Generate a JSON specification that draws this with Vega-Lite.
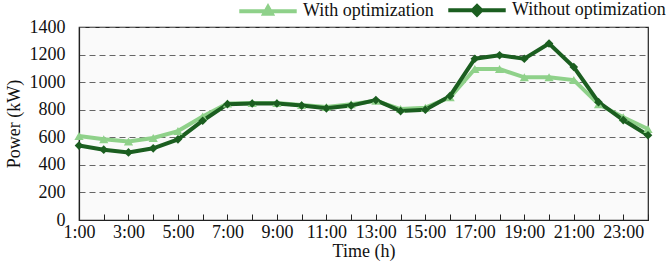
{
  "$schema": "https://vega.github.io/schema/vega-lite/v6.json",
  "autosize": "none",
  "width": 569,
  "height": 193,
  "padding": {"left": 79, "top": 27, "right": 23, "bottom": 52},
  "background": "white",
  "config": {
    "font": "Liberation Serif",
    "view": {"stroke": "#222222", "strokeWidth": 1.2, "fill": "#fafafa"}
  },
  "data": {
    "values": [
      {"hour": 1, "series": "With optimization", "power": 610},
      {"hour": 2, "series": "With optimization", "power": 585},
      {"hour": 3, "series": "With optimization", "power": 570},
      {"hour": 4, "series": "With optimization", "power": 595},
      {"hour": 5, "series": "With optimization", "power": 645},
      {"hour": 6, "series": "With optimization", "power": 750},
      {"hour": 7, "series": "With optimization", "power": 845},
      {"hour": 8, "series": "With optimization", "power": 848},
      {"hour": 9, "series": "With optimization", "power": 848},
      {"hour": 10, "series": "With optimization", "power": 835},
      {"hour": 11, "series": "With optimization", "power": 820},
      {"hour": 12, "series": "With optimization", "power": 840},
      {"hour": 13, "series": "With optimization", "power": 865},
      {"hour": 14, "series": "With optimization", "power": 805},
      {"hour": 15, "series": "With optimization", "power": 815},
      {"hour": 16, "series": "With optimization", "power": 890},
      {"hour": 17, "series": "With optimization", "power": 1095},
      {"hour": 18, "series": "With optimization", "power": 1095},
      {"hour": 19, "series": "With optimization", "power": 1035},
      {"hour": 20, "series": "With optimization", "power": 1035},
      {"hour": 21, "series": "With optimization", "power": 1015},
      {"hour": 22, "series": "With optimization", "power": 840},
      {"hour": 23, "series": "With optimization", "power": 745},
      {"hour": 24, "series": "With optimization", "power": 660},
      {"hour": 1, "series": "Without optimization", "power": 540},
      {"hour": 2, "series": "Without optimization", "power": 510},
      {"hour": 3, "series": "Without optimization", "power": 490},
      {"hour": 4, "series": "Without optimization", "power": 520},
      {"hour": 5, "series": "Without optimization", "power": 585},
      {"hour": 6, "series": "Without optimization", "power": 720},
      {"hour": 7, "series": "Without optimization", "power": 840},
      {"hour": 8, "series": "Without optimization", "power": 845},
      {"hour": 9, "series": "Without optimization", "power": 845},
      {"hour": 10, "series": "Without optimization", "power": 830},
      {"hour": 11, "series": "Without optimization", "power": 810},
      {"hour": 12, "series": "Without optimization", "power": 830},
      {"hour": 13, "series": "Without optimization", "power": 870},
      {"hour": 14, "series": "Without optimization", "power": 790},
      {"hour": 15, "series": "Without optimization", "power": 800},
      {"hour": 16, "series": "Without optimization", "power": 900},
      {"hour": 17, "series": "Without optimization", "power": 1170},
      {"hour": 18, "series": "Without optimization", "power": 1195},
      {"hour": 19, "series": "Without optimization", "power": 1170},
      {"hour": 20, "series": "Without optimization", "power": 1280},
      {"hour": 21, "series": "Without optimization", "power": 1110},
      {"hour": 22, "series": "Without optimization", "power": 855},
      {"hour": 23, "series": "Without optimization", "power": 725},
      {"hour": 24, "series": "Without optimization", "power": 615}
    ]
  },
  "encoding": {
    "x": {
      "field": "hour", "type": "quantitative",
      "scale": {"domain": [1, 24], "nice": false, "zero": false},
      "axis": {
        "values": [1,2,3,4,5,6,7,8,9,10,11,12,13,14,15,16,17,18,19,20,21,22,23,24],
        "labelExpr": "datum.value % 2 == 1 ? datum.value + ':00' : ''",
        "labelFontSize": 18, "labelColor": "#111111", "labelFont": "Liberation Serif",
        "labelFlush": false, "labelOverlap": false,
        "tickSize": -6, "tickColor": "#222222", "domainColor": "#222222", "domainWidth": 1.2,
        "labelPadding": 9, "grid": false,
        "title": "Time (h)", "titleFontSize": 18, "titleFontWeight": "normal", "titleColor": "#111111",
        "titleFont": "Liberation Serif", "titlePadding": 1
      }
    },
    "y": {
      "field": "power", "type": "quantitative",
      "scale": {"domain": [0, 1400], "nice": false},
      "axis": {
        "values": [0, 200, 400, 600, 800, 1000, 1200, 1400], "format": "d",
        "ticks": false, "labelPadding": 14, "domainColor": "#222222", "domainWidth": 1.2,
        "labelFontSize": 18, "labelColor": "#111111", "labelFont": "Liberation Serif",
        "grid": true, "gridColor": "#666666", "gridDash": [6, 4], "gridWidth": 1.2,
        "title": "Power (kW)", "titleFontSize": 18, "titleFontWeight": "normal", "titleColor": "#111111",
        "titleFont": "Liberation Serif", "titlePadding": 6
      }
    }
  },
  "layer": [
    {
      "mark": {"type": "line", "strokeWidth": 4},
      "encoding": {
        "color": {
          "field": "series", "type": "nominal",
          "scale": {"domain": ["With optimization", "Without optimization"], "range": ["#8fd18a", "#1b5e20"]},
          "legend": {
            "orient": "none", "direction": "horizontal", "legendX": 158, "legendY": -48,
            "title": null, "labelFontSize": 18, "labelFont": "Liberation Serif", "labelColor": "#111111",
            "symbolType": "stroke", "symbolSize": 3300, "symbolStrokeWidth": 4, "columnPadding": 6, "labelOffset": 4,
            "encode": {
              "symbols": {
                "update": {
                  "shape": {"signal": "datum.value == 'With optimization' ? 'M-1,0L1,0M-0.13,0.08L0,-0.15L0.13,0.08Z' : 'M-1,0L1,0M-0.15,0L0,-0.15L0.15,0L0,0.15Z'"},
                  "fill": {"signal": "datum.value == 'With optimization' ? '#8fd18a' : '#1b5e20'"},
                  "fillOpacity": {"value": 1}
                }
              }
            }
          }
        }
      }
    },
    {
      "transform": [{"filter": "datum.series == 'With optimization'"}],
      "mark": {"type": "point", "filled": true, "size": 85, "opacity": 1, "shape": "triangle-up", "color": "#8fd18a"}
    },
    {
      "transform": [{"filter": "datum.series == 'Without optimization'"}],
      "mark": {"type": "point", "filled": true, "size": 75, "opacity": 1, "shape": "diamond", "color": "#1b5e20"}
    }
  ]
}
